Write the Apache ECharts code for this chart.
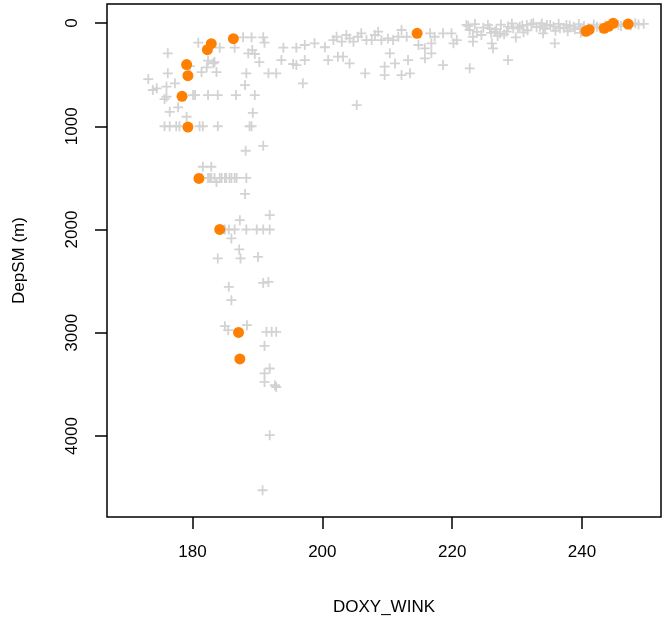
<!DOCTYPE html>
<html>
<head>
<meta charset="utf-8">
<script src="https://cdn.jsdelivr.net/npm/echarts@6/dist/echarts.min.js"></script>
<style>
html,body{margin:0;padding:0;background:#fff;}
#chart{width:664px;height:623px;}
</style>
</head>
<body>
<div id="chart"></div>
<script>
// Tick labels
const xTicks = [180, 200, 220, 240];
const yTicks = [0, 1000, 2000, 3000, 4000];

// Grey "+" points: oxygen (DOXY_WINK) and depth (DepSM, m)
const greyOxy = [
  180.9,184.2,186.5,187.8,189.1,190.9,191.1,189.2,189.6,188.6,194.0,196.0,193.7,195.5,196.0,190.3,176.2,182.4,183.2,183.4,
  179.6,183.7,181.4,182.2,188.3,191.7,192.9,176.2,173.2,177.3,176.0,173.9,174.5,176.0,175.7,180.1,180.4,182.4,183.9,186.7,
  189.6,188.1,177.8,176.5,189.3,179.1,175.7,176.5,177.5,178.0,181.1,181.6,183.9,188.8,189.1,188.2,190.9,181.6,182.9,
  181.4,182.4,182.7,182.9,183.4,184.2,184.5,185.0,185.2,185.7,186.0,186.5,186.8,188.3,183.7,188.1,191.9,187.3,
  185.0,185.6,186.5,188.3,189.9,190.9,191.9,186.0,187.2,183.9,187.4,190.1,185.6,186.0,190.9,191.7,185.0,185.5,188.4,
  191.4,192.2,192.9,191.1,191.9,191.1,191.1,192.7,192.9,191.9,190.8,
  197.3,198.8,200.4,201.7,202.2,203.0,203.7,204.2,204.8,205.5,206.0,206.8,207.6,208.1,208.6,209.1,210.1,210.9,211.7,212.2,
  213.0,216.6,217.3,218.6,219.9,220.7,222.2,222.7,223.2,224.5,225.8,226.6,227.4,228.4,229.4,230.4,231.5,232.5,233.5,234.6,
  235.6,236.6,237.6,238.7,239.7,242.3,245.6,248.2,
  197.3,200.9,202.4,203.2,204.2,206.6,209.6,209.6,210.4,211.2,212.2,213.5,213.2,215.8,216.8,214.8,215.8,218.6,222.7,226.3,
  228.6,235.8,197.0,205.3,216.8,223.2,220.2,226.1,
  222.5,223.5,224.8,225.5,226.8,227.5,228.6,229.2,230.1,230.8,231.6,232.2,233.0,233.8,234.3,235.1,235.9,236.4,237.2,238.1,
  238.9,239.5,240.3,241.0,241.8,242.8,243.6,244.3,246.0,246.8,247.5,248.7,249.5,223.8,226.0,228.0,231.0,234.0,237.8,239.8,
  227.0,229.8
];
const greyDepth = [
  191,239,239,139,139,139,191,262,300,294,239,239,359,397,407,378,294,365,390,378,
  417,475,475,429,487,487,487,487,543,584,617,649,633,714,737,698,698,698,698,698,
  698,601,817,860,870,908,1000,1000,1000,1000,1000,1000,1000,1000,1000,1237,1189,1392,1392,
  1500,1500,1500,1500,1500,1500,1500,1500,1500,1500,1500,1500,1500,1500,1540,1655,1860,1909,
  2000,2000,2000,2000,2000,2000,2000,2086,2193,2280,2280,2265,2555,2684,2517,2507,2936,2975,2926,
  2991,2991,2991,3127,3346,3394,3476,3508,3525,3992,4525,
  213,197,235,165,133,181,116,149,181,133,100,165,165,116,84,165,149,165,133,68,
  133,100,133,100,100,165,19,68,133,116,52,84,100,84,52,36,19,3,36,19,
  36,52,19,36,52,36,19,3,
  359,359,326,326,391,487,423,504,294,391,504,487,359,342,294,213,245,407,439,245,
  359,197,584,795,197,181,197,197,
  30,10,45,20,60,15,35,5,50,25,70,10,40,5,55,20,75,8,45,25,
  60,10,30,50,15,45,25,10,30,12,25,15,8,85,95,110,90,100,80,95,
  125,140
];

// Orange bottle points
const bottleOxy   = [186.3,182.9,182.3,179.1,179.3,178.4,179.3,181.0,184.2,187.1,187.3,214.6,240.6,241.1,243.4,244.1,244.8,247.1];
const bottleDepth = [152,200,258,403,510,710,1008,1505,1999,2997,3253,100,80,65,51,32,3,10];

const greyData = greyOxy.map((v, i) => [v, greyDepth[i]]);
const bottleData = bottleOxy.map((v, i) => [v, bottleDepth[i]]);

const FONT = "'Liberation Sans', Arial, Helvetica, sans-serif";
const plusPath = 'path://M4.1,0 H5.9 V4.1 H10 V5.9 H5.9 V10 H4.1 V5.9 H0 V4.1 H4.1 Z';

const chart = echarts.init(document.getElementById('chart'), null, {renderer: 'canvas'});
chart.setOption({
  animation: false,
  backgroundColor: '#ffffff',
  grid: {left: 107, right: 3, top: 4, bottom: 106, show: true, borderColor: '#000', borderWidth: 1.5, backgroundColor: 'transparent'},
  xAxis: {
    type: 'value', min: 166.84, max: 252.16,
    axisLine: {show: false, onZero: false},
    splitLine: {show: false},
    axisTick: {show: true, length: 12, lineStyle: {color: '#000', width: 1.5}, customValues: xTicks},
    axisLabel: {customValues: xTicks, margin: 27, fontSize: 17, color: '#000', fontFamily: FONT,
                formatter: v => String(v)},
    name: 'DOXY_WINK', nameLocation: 'middle', nameGap: 82,
    nameTextStyle: {fontSize: 17, color: '#000', fontFamily: FONT}
  },
  yAxis: {
    type: 'value', inverse: true, min: -184, max: 4784,
    axisLine: {show: false, onZero: false},
    splitLine: {show: false},
    axisTick: {show: true, length: 12, lineStyle: {color: '#000', width: 1.5}, customValues: yTicks},
    axisLabel: {customValues: yTicks, rotate: 90, margin: 26, fontSize: 17, color: '#000', fontFamily: FONT,
                formatter: v => String(v)},
    name: 'DepSM (m)', nameLocation: 'middle', nameGap: 79, nameRotate: 90,
    nameTextStyle: {fontSize: 17, color: '#000', fontFamily: FONT}
  },
  series: [
    {
      type: 'scatter', data: greyData, symbol: plusPath, symbolSize: 10,
      itemStyle: {color: '#d3d3d3', opacity: 1}, silent: true, z: 2
    },
    {
      type: 'scatter', data: bottleData, symbol: 'circle', symbolSize: 11,
      itemStyle: {color: '#ff7f00', opacity: 1}, silent: true, z: 3
    }
  ]
});
</script>
</body>
</html>
